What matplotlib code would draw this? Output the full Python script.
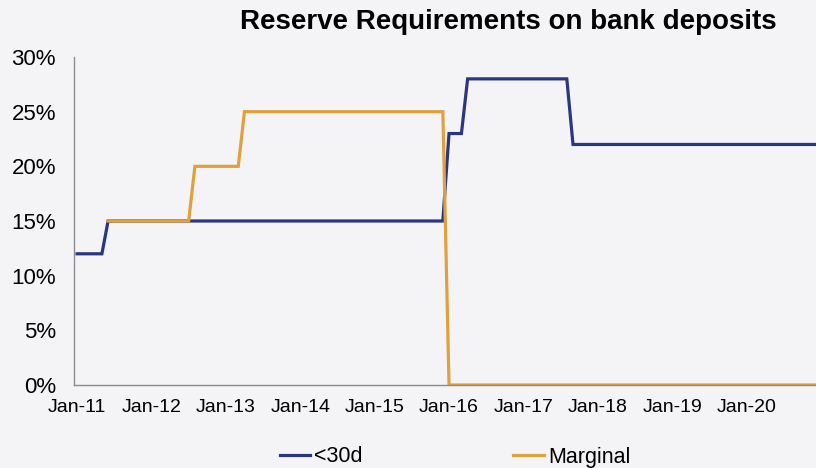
import pandas as pd
import numpy as np
import matplotlib.pyplot as plt

# reserve requirement levels (%), vertices of the step lines
short_dates = ['2011-01', '2011-05', '2011-06', '2015-12', '2016-01', '2016-03',
               '2016-04', '2017-08', '2017-09', '2020-12']
short_vals = [12, 12, 15, 15, 23, 23, 28, 28, 22, 22]

marg_dates = ['2011-06', '2012-07', '2012-08', '2013-03', '2013-04', '2015-12',
              '2016-01', '2020-12']
marg_vals = [15, 15, 20, 20, 25, 25, 0, 0]

tick_years = list(range(2011, 2021))
tick_labels = ['Jan-%02d' % (y % 100) for y in tick_years]
y_ticks = [0, 5, 10, 15, 20, 25, 30]

BG = '#F4F4F6'
BLUE = '#2B3680'
ORANGE = '#E0A03E'


def month_index(dates):
    d = pd.to_datetime(dates)
    return np.array((d.year - 2011) * 12 + d.month - 1)


plt.rcParams['font.family'] = ['Liberation Sans', 'DejaVu Sans']

fig = plt.figure(figsize=(8.16, 4.68), dpi=100, facecolor=BG)
ax = fig.add_axes([74 / 816, 83 / 468, 1 - 74 / 816, 328 / 468])
ax.set_facecolor(BG)

ax.plot(month_index(short_dates), short_vals, color=BLUE, lw=2.3, label='<30d',
        solid_joinstyle='miter')
ax.plot(month_index(marg_dates), marg_vals, color=ORANGE, lw=2.3, label='Marginal',
        solid_joinstyle='miter')

ax.set_xlim(-0.5, 119.2)
ax.set_ylim(0, 30)
ax.set_xticks([(y - 2011) * 12 for y in tick_years])
ax.set_xticklabels(tick_labels, fontsize=14, family=['Liberation Sans Narrow', 'Liberation Sans'])
ax.set_yticks(y_ticks)
ax.set_yticklabels(['%d%%' % v for v in y_ticks], fontsize=16)
ax.tick_params(axis='x', length=0, pad=10)
ax.tick_params(axis='y', length=0, pad=13)

for s in ['top', 'right']:
    ax.spines[s].set_visible(False)
for s in ['left', 'bottom']:
    ax.spines[s].set_color('#8C8C8C')
    ax.spines[s].set_linewidth(1)

fig.text(508 / 816, 1 - 22 / 468, 'Reserve Requirements on bank deposits',
         fontsize=20, fontweight='bold', ha='center', va='center')

ax.legend(loc='center', bbox_to_anchor=(455 / 816, 1 - 457 / 468),
          bbox_transform=fig.transFigure, ncol=2, frameon=False, fontsize=15.5,
          handlelength=1.4, handletextpad=0.2, columnspacing=7.0)

fig.savefig('out.png', dpi=100, facecolor=BG)
